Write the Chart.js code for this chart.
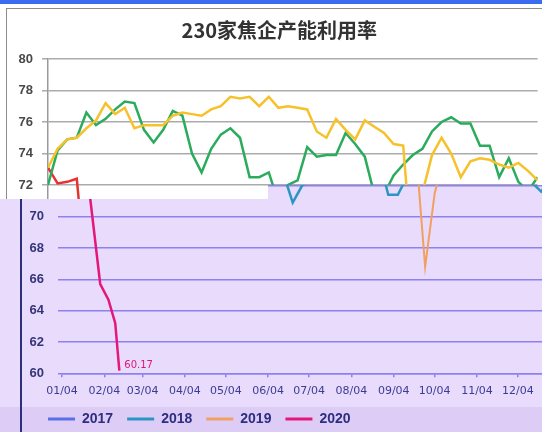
<!DOCTYPE html>
<html>
<head>
<meta charset="utf-8">
<script src="https://cdn.jsdelivr.net/npm/chart.js@4/dist/chart.umd.min.js"></script>
<style>
html,body{margin:0;padding:0;}
body{width:542px;height:432px;overflow:hidden;background:#e8dbfb;position:relative;}
#band{position:absolute;left:0;top:407px;width:542px;height:25px;background:#ddcdf6;}
#vline{position:absolute;left:20px;top:0;width:2px;height:432px;background:#2d2f7c;}
#bottomWrap{position:absolute;left:0;top:0;width:542px;height:432px;}
#topWrap{position:absolute;left:0;top:0;width:542px;height:432px;overflow:hidden;background:#fff;
  clip-path:polygon(0 0,542px 0,542px 185px,268px 185px,268px 199px,0 199px);}
#blue{position:absolute;left:0;top:0;width:542px;height:4px;background:#3a6cf0;}
#frame{position:absolute;left:6px;top:8px;width:600px;height:420px;border:1.5px solid #8c8c8c;}
#topCanvasWrap{position:absolute;left:0;top:0;width:558px;height:432px;}
</style>
</head>
<body>
<div id="band"></div>
<div id="vline"></div>
<div id="bottomWrap"><canvas id="bottomChart" width="542" height="432"></canvas></div>
<div id="topWrap">
  <div id="blue"></div>
  <div id="frame"></div>
  <div id="topCanvasWrap"><canvas id="topChart" width="558" height="432"></canvas></div>
</div>
<script>
// ---------- data ----------
const chartTitle = '230家焦企产能利用率';
const seriesNames = ['2017', '2018', '2019', '2020'];

// weekly readings (index 0 = first week of January)
const s2017 = []; // entirely hidden in the reference picture
const s2018 = [72.0, 74.2, 74.9, 75.0, 76.6, 75.8, 76.2, 76.8, 77.3, 77.2,
               75.5, 74.7, 75.5, 76.7, 76.4, 74.0, 72.8, 74.3, 75.2, 75.6,
               75.0, 72.5, 72.5, 72.8, 70.9, 72.0, 72.3, 74.4, 73.8, 73.9,
               73.9, 75.3, 74.6, 73.8, 71.4, 71.4, 72.6, 73.3, 73.9, 74.3,
               75.4, 76.0, 76.3, 75.9, 75.9, 74.5, 74.5, 72.5, 73.7, 72.2,
               71.6, 72.5];
const s2019 = [73.1, 74.3, 74.9, 75.0, 75.6, 76.1, 77.2, 76.5, 76.9, 75.6,
               75.8, 75.8, 75.8, 76.4, 76.6, 76.5, 76.4, 76.8, 77.0, 77.6,
               77.5, 77.6, 77.0, 77.6, 76.9, 77.0, 76.9, 76.8, 75.4, 75.0,
               76.2, 75.5, 74.9, 76.1, 75.7, 75.3, 74.6, 74.5, 66.8, 71.5,
               73.9, 75.0, 74.0, 72.5, 73.5, 73.7, 73.6, 73.3, 73.1, 73.4,
               72.9, 72.3];
const s2020 = [73.1, 72.1, 72.2, 72.4, 65.7, 64.7, 63.2, 60.17];

// day offsets from 4 January for each year's readings
const start2018 = 1;
const start2019 = 0;
const days2020 = [-1, 6, 13, 19, 28, 34, 39, 42];

// lower chart x ticks (days from 4 January) and their labels
const monthTickDays = [0, 31, 59, 90, 120, 151, 181, 212, 243, 273, 304, 334];
const monthTickLabels = ['01/04','02/04','03/04','04/04','05/04','06/04','07/04','08/04','09/04','10/04','11/04','12/04'];

// ---------- helpers ----------
const weekly = (vals, start) => vals.map((v, i) => ({x: start + 7 * i, y: v}));
const byDays = (vals, days) => vals.map((v, i) => ({x: days[i], y: v}));
const byIndex = vals => vals.map((v, i) => ({x: i, y: v}));

// ---------- lower (purple) chart ----------
const purpleGrid = '#8d80f0';
const lastLabel = {
  id: 'lastLabel',
  afterLayout(chart) {
    // move the legend row so it starts at the same place as in the reference
    if (chart.legend) { chart.legend.left += 14; chart.legend.right += 14; }
  },
  afterDatasetsDraw(chart) {
    const di = 3;
    const meta = chart.getDatasetMeta(di);
    const n = meta.data.length;
    if (!n) return;
    const p = meta.data[n - 1];
    const v = chart.data.datasets[di].data[n - 1].y;
    const ctx = chart.ctx;
    ctx.save();
    ctx.font = '10px "DejaVu Sans"';
    ctx.fillStyle = '#e0147a';
    ctx.textBaseline = 'middle';
    ctx.textAlign = 'left';
    ctx.fillText(v.toFixed(2), p.x + 5, p.y - 5);
    ctx.restore();
  }
};

const bottomColors = ['#5a6ee6', '#2a96c4', '#f0a060', '#e5177b'];
new Chart(document.getElementById('bottomChart'), {
  type: 'line',
  data: {
    datasets: [
      {label: seriesNames[0], data: weekly(s2017, 0), borderColor: bottomColors[0], backgroundColor: bottomColors[0], borderWidth: 2.5},
      {label: seriesNames[1], data: weekly(s2018, start2018), borderColor: bottomColors[1], backgroundColor: bottomColors[1], borderWidth: 2.5},
      {label: seriesNames[2], data: weekly(s2019, start2019), borderColor: bottomColors[2], backgroundColor: bottomColors[2], borderWidth: 2},
      {label: seriesNames[3], data: byDays(s2020, days2020), borderColor: bottomColors[3], backgroundColor: bottomColors[3], borderWidth: 2.5}
    ]
  },
  options: {
    responsive: false,
    animation: false,
    events: [],
    elements: {point: {radius: 0}, line: {tension: 0}},
    layout: {padding: {left: 20, top: 60, right: 0, bottom: 4}},
    scales: {
      x: {
        type: 'linear', min: 0, max: 351.6,
        afterBuildTicks: s => { s.ticks = monthTickDays.map(v => ({value: v})); },
        afterFit: s => { s.height = 24.7; },
        ticks: {
          callback: v => monthTickLabels[monthTickDays.indexOf(v)],
          font: {family: '"DejaVu Sans"', size: 11}, color: '#3c3c96', padding: 7.5,
          maxRotation: 0, autoSkip: false
        },
        grid: {drawOnChartArea: false, tickLength: 4, color: purpleGrid, lineWidth: 1.5},
        border: {color: purpleGrid, width: 1.5}
      },
      y: {
        min: 60, max: 80,
        afterFit: s => { s.width = 42; },
        ticks: {stepSize: 2, font: {family: '"Liberation Sans"', size: 13, weight: 'bold'}, color: '#35357a', padding: 14},
        grid: {color: purpleGrid, lineWidth: 1.5, tickLength: 4},
        border: {display: false}
      }
    },
    plugins: {
      tooltip: {enabled: false},
      legend: {
        position: 'bottom', align: 'start', maxHeight: 30,
        labels: {
          boxWidth: 27, boxHeight: 3, padding: 14,
          font: {family: '"Liberation Sans"', size: 14, weight: 'bold'}, color: '#2e2e80',
          generateLabels: chart => Chart.defaults.plugins.legend.labels.generateLabels(chart).map(l => Object.assign(l, {lineWidth: 0}))
        }
      }
    }
  },
  plugins: [lastLabel]
});

// ---------- upper (white) chart ----------
const shiftTitle = {
  id: 'shiftTitle',
  afterLayout(chart) {
    if (chart.titleBlock) { chart.titleBlock.left += 21; }
  }
};
const topColors = ['#2bab5c', '#f7c12b', '#e83232'];
new Chart(document.getElementById('topChart'), {
  type: 'line',
  data: {
    datasets: [
      {label: seriesNames[2], data: byIndex(s2019), borderColor: topColors[1], borderWidth: 2.5},
      {label: seriesNames[1], data: byIndex(s2018), borderColor: topColors[0], borderWidth: 2.5},
      {label: seriesNames[3], data: byIndex(s2020), borderColor: topColors[2], borderWidth: 2.5}
    ]
  },
  options: {
    responsive: false,
    animation: false,
    events: [],
    elements: {point: {radius: 0}, line: {tension: 0}},
    layout: {padding: {left: 0, top: 0, right: 20.4, bottom: 58}},
    scales: {
      x: {type: 'linear', min: 0, max: 51, display: false},
      y: {
        min: 60, max: 80,
        afterFit: s => { s.width = 48; },
        ticks: {stepSize: 2, font: {family: '"Liberation Sans"', size: 13, weight: 'bold'}, color: '#4a4a4a', padding: 9},
        grid: {color: '#ababab', lineWidth: 1.5, tickLength: 6},
        border: {color: '#9a9a9a', width: 1.5}
      }
    },
    plugins: {
      tooltip: {enabled: false},
      legend: {display: false},
      title: {
        display: true, text: chartTitle,
        font: {family: '"Noto Sans CJK SC"', size: 20, weight: 'bold'}, color: '#333333',
        padding: {top: 18, bottom: 17}
      }
    }
  },
  plugins: [shiftTitle]
});
</script>
</body>
</html>
